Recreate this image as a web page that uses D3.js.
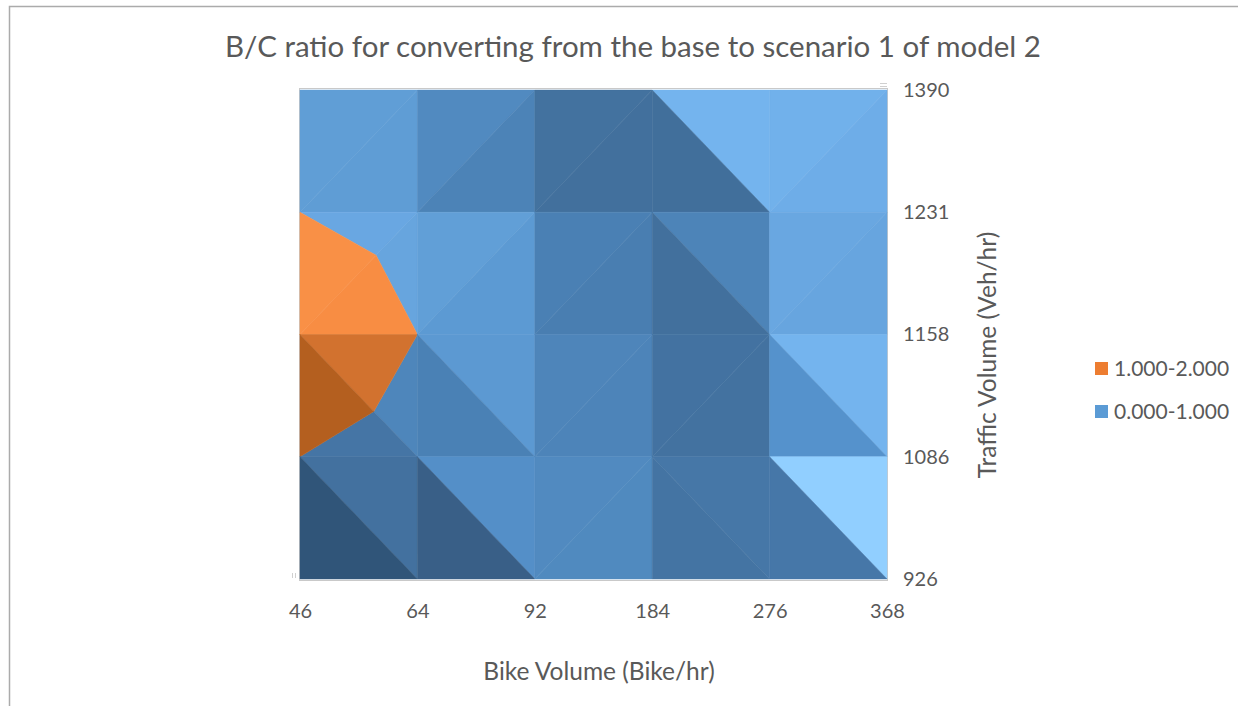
<!DOCTYPE html>
<html><head><meta charset="utf-8">
<script src="https://cdn.jsdelivr.net/npm/d3@7"></script>
<style>body{margin:0;background:#fff;} svg{display:block;font-family:Lato,'Open Sans',sans-serif;}</style>
</head><body><svg id="c" width="1238" height="706"></svg>
<script>
// ---- data ----
const bikeVolumes = [46, 64, 92, 184, 276, 368];
const trafficVolumes = [1390, 1231, 1158, 1086, 926];
// B/C ratio for each traffic volume row, one value per bike volume
const bc1390 = [0.820, 0.681, 0.788, 0.886, 0.501, 0.150];
const bc1231 = [1.000, 0.849, 0.654, 0.674, 0.719, 0.267];
const bc1158 = [1.278, 1.000, 0.647, 0.584, 0.772, 0.233];
const bc1086 = [1.000, 0.836, 0.634, 0.528, 0.699, 0.336];
const bc926  = [0.473, 0.508, 0.644, 0.496, 0.691, 0.856];
const bandLabels = ['1.000-2.000', '0.000-1.000'];
const bandThreshold = 1;

const Z = [bc1390, bc1231, bc1158, bc1086, bc926];

// ---- lighting of the surface facets (top view of a 3-D surface) ----
const light = {c0: 182.3, gain: 96.6, q: 0.15};
const shade = (gx, gy) => light.c0 + light.gain * ((light.q - 1) * gx + (1 + light.q) * gy);
const blue = d3.scaleLinear().domain([121,136,157,168,180,190,204,212,220,228,238,270])
  .range(['#305579','#3A6088','#42709D','#4677A8','#4A80B4','#5089BE','#5592CC','#5E9CD4','#66A4DC','#6AA8E4','#74B4EE','#91CFFF']).clamp(true);
const orange = d3.scaleLinear().domain([120,166,181,223,270])
  .range(['#8C4614','#B5601F','#CC6D2C','#F98E44','#FFB070']).clamp(true);

const svg = d3.select('#c');
const x = d3.scalePoint().domain(bikeVolumes).range([300, 887]);
const y = d3.scalePoint().domain(trafficVolumes).range([90, 579]);

function clip(pts, vals, above) {
  const out = [];
  for (let k = 0; k < 3; k++) {
    const a = k, b = (k + 1) % 3, va = vals[a], vb = vals[b];
    const ia = above ? va >= bandThreshold : va < bandThreshold;
    const ib = above ? vb >= bandThreshold : vb < bandThreshold;
    if (ia) out.push(pts[a]);
    if (ia !== ib) {
      const t = (bandThreshold - va) / (vb - va);
      out.push([pts[a][0] + t * (pts[b][0] - pts[a][0]), pts[a][1] + t * (pts[b][1] - pts[a][1])]);
    }
  }
  return out;
}

const polys = [];
for (let i = 0; i < trafficVolumes.length - 1; i++) {
  for (let j = 0; j < bikeVolumes.length - 1; j++) {
    const P = ([ii, jj]) => [x(bikeVolumes[jj]), y(trafficVolumes[ii])];
    const v = ([ii, jj]) => Z[ii][jj];
    const TL = [i, j], TR = [i, j + 1], BL = [i + 1, j], BR = [i + 1, j + 1];
    const slash = (v(BL) + v(TR)) > (v(TL) + v(BR));
    const tris = slash
      ? [[[TL, TR, BL], shade(v(TR) - v(TL), v(BL) - v(TL))], [[TR, BR, BL], shade(v(BR) - v(BL), v(BR) - v(TR))]]
      : [[[TL, TR, BR], shade(v(TR) - v(TL), v(BR) - v(TR))], [[TL, BR, BL], shade(v(BR) - v(BL), v(BL) - v(TL))]];
    for (const [nodes, L] of tris) {
      const pts = nodes.map(P), vals = nodes.map(v);
      const lo = clip(pts, vals, false), hi = clip(pts, vals, true);
      if (lo.length >= 3) polys.push({pts: lo, fill: blue(L)});
      if (hi.length >= 3) polys.push({pts: hi, fill: orange(L)});
    }
  }
}

// chart border
svg.append('path').attr('d', 'M9.5,706V6.5H1238').attr('fill', 'none').attr('stroke', '#ABABAB').attr('stroke-width', 1.5);
// plot frame
svg.append('rect').attr('x', 299.5).attr('y', 88.5).attr('width', 588).attr('height', 492)
  .attr('fill', 'none').attr('stroke', '#C9C9C9');
svg.append('path').attr('d', 'M880,83.5H887M880,86.5H887M292.5,573V578M295.5,573V578')
  .attr('stroke', '#D0D0D0').attr('fill', 'none');

svg.append('g').selectAll('path').data(polys).join('path')
  .attr('d', d => 'M' + d.pts.map(p => p.join(',')).join('L') + 'Z')
  .attr('fill', d => d.fill).attr('stroke', d => d.fill).attr('stroke-width', 0.5);

const xa = svg.append('g').attr('transform', 'translate(0,579)')
  .call(d3.axisBottom(x).tickSize(0).tickPadding(25));
const ya = svg.append('g').attr('transform', 'translate(887,0)')
  .call(d3.axisRight(y).tickSize(0).tickPadding(16));
[xa, ya].forEach(g => {
  g.select('.domain').remove();
  g.selectAll('text').attr('font-size', 20).attr('fill', '#595959').attr('font-family', 'Lato');
});

svg.append('text').attr('x', 633).attr('y', 57).attr('text-anchor', 'middle')
  .attr('font-size', 29.5).attr('fill', '#595959')
  .text('B/C ratio for converting from the base to scenario 1 of model 2');
svg.append('text').attr('x', 599).attr('y', 680).attr('text-anchor', 'middle')
  .attr('font-size', 24.5).attr('fill', '#595959').text('Bike Volume (Bike/hr)');
svg.append('text').attr('transform', 'translate(996,355) rotate(-90)').attr('text-anchor', 'middle')
  .attr('font-size', 24.5).attr('fill', '#595959').text('Traffic Volume (Veh/hr)');

const lg = svg.append('g').selectAll('g').data(bandLabels).join('g')
  .attr('transform', (d, i) => `translate(1095,${362 + i * 43})`);
lg.append('rect').attr('width', 13).attr('height', 13).attr('fill', (d, i) => ['#ED7D31', '#5B9BD5'][i]);
lg.append('text').attr('x', 19).attr('y', 6.5).attr('dy', '0.35em')
  .attr('font-size', 21).attr('fill', '#595959').text(d => d);
</script></body></html>
